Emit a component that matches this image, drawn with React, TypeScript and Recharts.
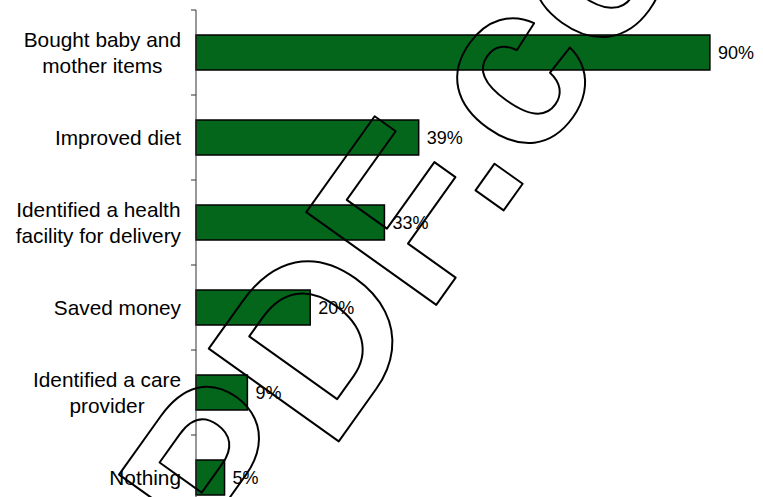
import React from 'react';
import { BarChart, Bar, XAxis, YAxis, LabelList } from 'recharts';

// answers to "what did you do after the session"
const categories = [
    'Bought baby and\nmother items',
    'Improved diet',
    'Identified a health\nfacility for delivery',
    'Saved money',
    'Identified a care\nprovider',
    'Nothing',
];
const percentages = [90, 39, 33, 20, 9, 5];
const valueDomain = [0, 100];
const watermarkText = 'PDF.co';

const FONT = "'Liberation Sans', Arial, sans-serif";
const LABEL_SIZE = 20.8;
const LINE_H = 26;
const TICK_SIZE = 5;
const TICK_MARGIN = 10;
const HALF_BAND = 42.5;

let measureCtx: CanvasRenderingContext2D | null = null;
const textWidth = (text: string) => {
    if (!measureCtx) measureCtx = document.createElement('canvas').getContext('2d');
    if (!measureCtx) return text.length * LABEL_SIZE * 0.5;
    measureCtx.font = `${LABEL_SIZE}px ${FONT}`;
    return measureCtx.measureText(text).width;
};

const CategoryTick = (props: any) => {
    const { x, y, payload, index } = props;
    const lines = String(payload.value).split('\n');
    const w = Math.max(...lines.map(textWidth));
    const cx = x - w / 2;
    const axisX = x + TICK_MARGIN + TICK_SIZE;
    return (
        <g>
            <line x1={axisX - TICK_SIZE} x2={axisX} y1={y - HALF_BAND} y2={y - HALF_BAND} stroke="#333" />
            {index === categories.length - 1 && (
                <line x1={axisX - TICK_SIZE} x2={axisX} y1={y + HALF_BAND} y2={y + HALF_BAND} stroke="#333" />
            )}
            <text textAnchor="middle" fontSize={LABEL_SIZE} fontFamily={FONT} fill="#000">
                {lines.map((l, i) => (
                    <tspan key={`l-${i}`} x={cx} y={y + (i - (lines.length - 1) / 2) * LINE_H} dy="0.35em">
                        {l}
                    </tspan>
                ))}
            </text>
        </g>
    );
};

export default function App() {
    const data = categories.map((c, i) => ({ category: c, value: percentages[i] }));

    return (
        <div
            style={{
                position: 'absolute',
                left: 0,
                top: 0,
                width: 763,
                height: 497,
                overflow: 'hidden',
                background: '#fff',
            }}
        >
            <BarChart
                width={780}
                height={530}
                data={data}
                layout="vertical"
                margin={{ top: 10, right: 13, bottom: 10, left: 0 }}
            >
                <XAxis type="number" domain={valueDomain} hide />
                <YAxis
                    type="category"
                    dataKey="category"
                    width={196}
                    interval={0}
                    tickSize={TICK_SIZE}
                    tickMargin={TICK_MARGIN}
                    tickLine={false}
                    axisLine={{ stroke: '#333' }}
                    tick={<CategoryTick />}
                />
                <Bar dataKey="value" fill="#04661A" stroke="#000" strokeWidth={1.5} barSize={35} isAnimationActive={false}>
                    <LabelList
                        dataKey="value"
                        position="right"
                        offset={8}
                        formatter={(v: any) => `${v}%`}
                        fill="#000"
                        fontSize={18}
                        fontFamily={FONT}
                    />
                </Bar>
            </BarChart>
            {/* outlined watermark over the chart */}
            <svg
                width={763}
                height={497}
                style={{ position: 'absolute', left: 0, top: 0, pointerEvents: 'none' }}
            >
                <text
                    x={240}
                    y={580}
                    transform="rotate(-54.5 240 580)"
                    fontFamily={FONT}
                    fontWeight="bold"
                    fontSize={232}
                    fill="none"
                    stroke="#000"
                    strokeWidth={2}
                    strokeLinejoin="round"
                >
                    {watermarkText}
                </text>
            </svg>
        </div>
    );
}
